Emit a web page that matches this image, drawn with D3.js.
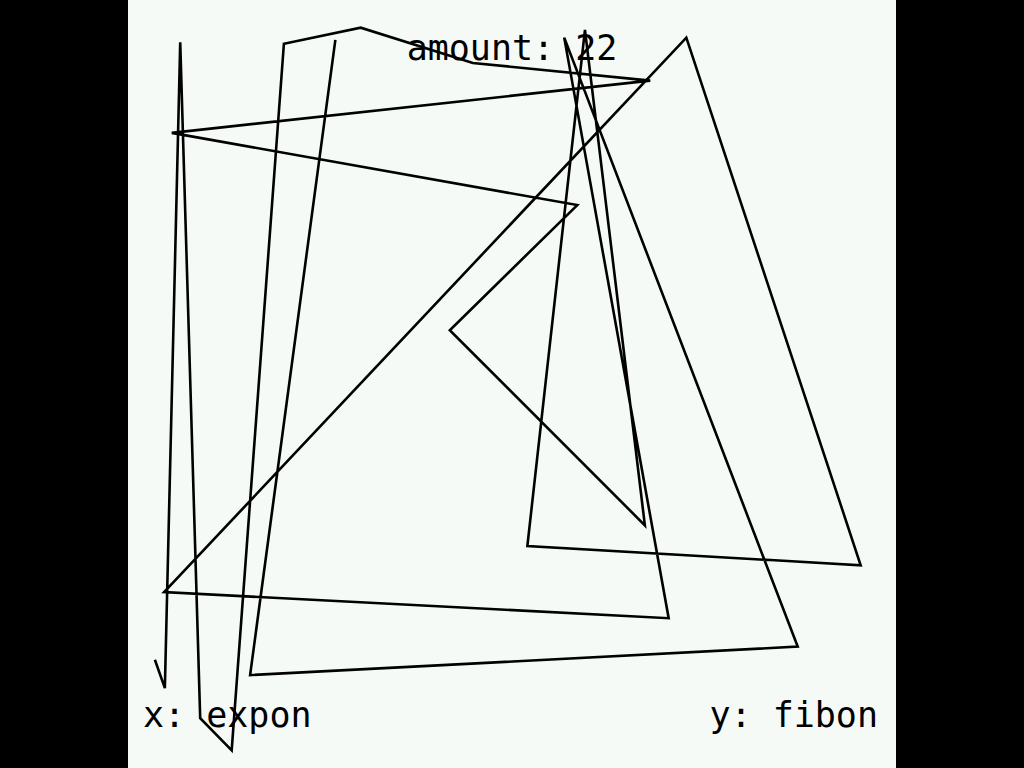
<!DOCTYPE html>
<html>
<head>
<meta charset="utf-8">
<script src="https://cdn.jsdelivr.net/npm/d3@7"></script>
<style>
  html, body { margin: 0; padding: 0; background: #000; }
  #chart { width: 1024px; height: 768px; }
  text { font-family: "DejaVu Sans Mono", monospace; font-size: 35px; fill: #000; }
</style>
</head>
<body>
<div id="chart"></div>
<script>
// Data (both axes on a 0..100 scale)
const expon = [3.5, 4.8, 6.8, 9.4, 13.5, 20.3, 30.3, 44.9, 68.0, 5.7, 58.5, 41.9,
    67.3, 59.5, 52.0, 95.4, 72.7, 4.7, 70.4, 56.8, 87.2, 15.9, 27.0];
const fibon = [14.1, 10.4, 94.5, 6.5, 2.3, 94.3, 96.4, 91.8, 89.5, 82.7, 73.3, 57.0,
    31.6, 96.1, 28.9, 26.4, 95.1, 22.9, 19.5, 95.1, 15.8, 12.1, 94.8];
const amountLabel = "amount: 22";
const xLabel = "x: expon";
const yLabel = "y: fibon";

const width = 1024;
const height = 768;
const panelX = 128;
const panelSize = 768;

const svg = d3.select("#chart").append("svg")
    .attr("width", width)
    .attr("height", height);

svg.append("rect")
    .attr("width", width)
    .attr("height", height)
    .attr("fill", "#000");

// Panel background
svg.append("rect")
    .attr("x", panelX)
    .attr("y", 0)
    .attr("width", panelSize)
    .attr("height", panelSize)
    .attr("fill", "#f5faf6");

const x = d3.scaleLinear().domain([0, 100]).range([panelX, panelX + panelSize]);
const y = d3.scaleLinear().domain([0, 100]).range([panelSize, 0]);

// Labels
svg.append("text")
    .attr("x", panelX + panelSize / 2)
    .attr("y", 60)
    .attr("text-anchor", "middle")
    .text(amountLabel);

svg.append("text")
    .attr("x", panelX + 15)
    .attr("y", 727)
    .text(xLabel);

svg.append("text")
    .attr("x", panelX + panelSize - 18)
    .attr("y", 727)
    .attr("text-anchor", "end")
    .text(yLabel);

// The path through all points, in order
const points = expon.map((d, i) => [d, fibon[i]]);
const line = d3.line()
    .x(d => x(d[0]))
    .y(d => y(d[1]));

svg.append("path")
    .datum(points)
    .attr("d", line)
    .attr("fill", "none")
    .attr("stroke", "#000")
    .attr("stroke-width", 2.6)
    .attr("stroke-linejoin", "miter")
    .attr("stroke-miterlimit", 4);
</script>
</body>
</html>
